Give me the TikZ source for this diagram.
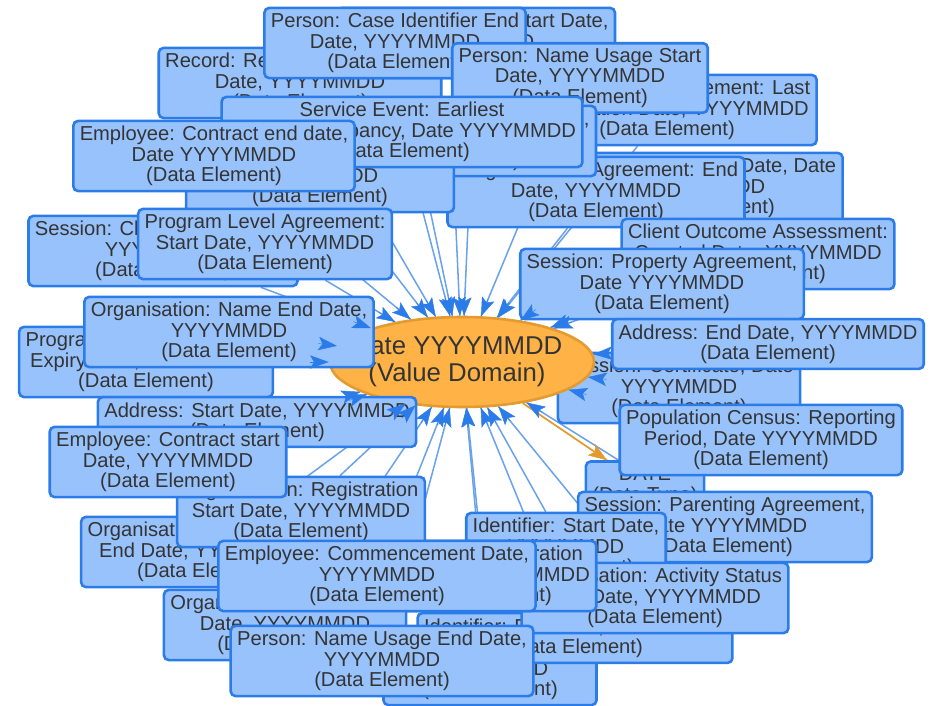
\documentclass[tikz,border=0pt]{standalone}
\usepackage{fontspec}
\setmainfont{Liberation Sans}
\usetikzlibrary{arrows.meta,calc,shapes.geometric}
\definecolor{elfill}{HTML}{97C2FC}
\definecolor{elline}{HTML}{2B7CE9}
\definecolor{eltext}{HTML}{343434}
\definecolor{vdfill}{HTML}{FFB347}
\definecolor{vdline}{HTML}{E39A2E}
\definecolor{lnkcol}{HTML}{6AA2EC}
\pgfdeclarelayer{back}\pgfdeclarelayer{front}\pgfsetlayers{back,main,front}
\tikzset{elem/.style={draw=elline,fill=elfill,line width=2.2pt,rounded corners=4pt,align=center,text=eltext,inner xsep=5.5pt,inner ysep=4.5pt,font=\fontsize{17.2}{17.4}\selectfont},
vdom/.style={ellipse,draw=vdline,fill=vdfill,line width=2.2pt,minimum width=79.2mm,minimum height=27mm,inner sep=0pt},
vdtext/.style={align=center,text=eltext,font=\fontsize{22}{23}\selectfont,xshift=-1.5mm},
link/.style={lnkcol,line width=1.3pt},head/.style={elline,-{Stealth[length=5.6mm,width=4mm,inset=1.2mm]}},
olink/.style={vdline,line width=1.5pt},ohead/.style={vdline,-{Stealth[length=5.6mm,width=4mm,inset=1.2mm]}}}
% edge from a data element to the value domain, tip drawn above the boxes
\newcommand\lnk[1]{\begin{pgfonlayer}{back}\draw[link] (#1) -- (vd);\end{pgfonlayer}%
\path (#1) -- (vd) coordinate[pos=1] (tp);%
\begin{pgfonlayer}{front}\draw[head] ($(tp)!5.6mm!(#1.center)$) -- (tp);\end{pgfonlayer}}

\begin{document}
\begin{tikzpicture}[x=0.3mm,y=-0.3mm]
\useasboundingbox (0,0) rectangle (931,706);
% top
\node[elem] (recret) at (300,83) {Record: Retention Period End\\Date, YYYYMMDD\\(Data Element)};
\node[elem] (progfund) at (476,43) {Program: Funding Start Date,\\YYYYMMDD\\(Data Element)};
\node[elem] (pcaseend) at (395,43) {Person: Case Identifier End\\Date, YYYYMMDD\\(Data Element)};
\node[elem] (plalast) at (667,110) {Program Level Agreement: Last\\Modification Date, YYYYMMDD\\(Data Element)};
\node[elem] (pnamest) at (580,78) {Person: Name Usage Start\\Date, YYYYMMDD\\(Data Element)};
\node[elem] (sesref) at (707,188) {Session: Referral Date, Date\\YYYYMMDD\\(Data Element)};
\node[elem] (plaend) at (596,192) {Program Level Agreement: End\\Date, YYYYMMDD\\(Data Element)};
\node[elem] (sevlast) at (452,141) {Service Event: Latest Session,\\Date YYYYMMDD\\(Data Element)};
\node[elem] (sesnext) at (320,177) {Session: Next Contact Date,\\YYYYMMDD\\(Data Element)};
\node[elem] (sevfirst) at (402,132) {Service Event: Earliest\\Service Occupancy, Date YYYYMMDD\\(Data Element)};
\node[elem] (empend) at (214,156) {Employee: Contract end date,\\Date YYYYMMDD\\(Data Element)};
% left and right of the middle
\node[elem] (sesclose) at (163,251) {Session: Closure Date, Date\\YYYYMMDD\\(Data Element)};
\node[elem] (plastart) at (265,244) {Program Level Agreement:\\Start Date, YYYYMMDD\\(Data Element)};
\node[elem] (coacr) at (758,254) {Client Outcome Assessment:\\Created Date, YYYYMMDD\\(Data Element)};
\node[elem] (sesprop) at (662,284) {Session: Property Agreement,\\Date YYYYMMDD\\(Data Element)};
\node[elem] (sescert) at (679,388) {Session: Certificate, Date\\YYYYMMDD\\(Data Element)};
\node[vdom,label={[vdtext]center:{Date YYYYMMDD\\(Value Domain)}}] (vd) at (462,362) {};
\node[elem] (plaexp) at (146,362) {Program Level Agreement:\\Expiry Date, YYYYMMDD\\(Data Element)};
\node[elem] (orgnameend) at (229,332) {Organisation: Name End Date,\\YYYYMMDD\\(Data Element)};
\node[elem] (addrend) at (768,344) {Address: End Date, YYYYMMDD\\(Data Element)};
\node[elem] (addrst) at (257,422) {Address: Start Date, YYYYMMDD\\(Data Element)};
\node[elem] (dt) at (645,486) {DATE\\(Data Type)};
\node[elem] (popcen) at (761,440) {Population Census: Reporting\\Period, Date YYYYMMDD\\(Data Element)};
% bottom
\node[elem] (sespar) at (725,527) {Session: Parenting Agreement,\\Date YYYYMMDD\\(Data Element)};
\node[elem] (idst) at (566,548) {Identifier: Start Date,\\YYYYMMDD\\(Data Element)};
\node[elem] (idexp) at (490,670) {Identifier: Expiry Date,\\YYYYMMDD\\(Data Element)};
\node[elem] (idend) at (575,638) {Identifier: End Date, YYYYMMDD\\(Data Element)};
\node[elem] (orgact) at (655,598) {Organisation: Activity Status\\End Date, YYYYMMDD\\(Data Element)};
\node[elem] (idreg) at (484,576) {Identifier: Registration\\End Date, YYYYMMDD\\(Data Element)};
\node[elem] (orgregend) at (205,552) {Organisation: Registration\\End Date, YYYYMMDD\\(Data Element)};
\node[elem] (orgnamest) at (285,625) {Organisation: Name Start\\Date, YYYYMMDD\\(Data Element)};
\node[elem] (orgregst) at (301,512) {Organisation: Registration\\Start Date, YYYYMMDD\\(Data Element)};
\node[elem] (empst) at (168,462) {Employee: Contract start\\Date, YYYYMMDD\\(Data Element)};
\node[elem] (empcomm) at (377,576) {Employee: Commencement Date,\\YYYYMMDD\\(Data Element)};
\node[elem] (pnameend) at (382,661) {Person: Name Usage End Date,\\YYYYMMDD\\(Data Element)};
% edges
\lnk{recret}\lnk{progfund}\lnk{pcaseend}\lnk{pnamest}\lnk{plalast}\lnk{sesref}\lnk{plaend}\lnk{sevlast}\lnk{sevfirst}
\lnk{sesnext}\lnk{empend}\lnk{sesclose}\lnk{plastart}\lnk{coacr}\lnk{sesprop}\lnk{sescert}\lnk{plaexp}\lnk{orgnameend}
\lnk{addrend}\lnk{addrst}\lnk{empst}\lnk{popcen}\lnk{sespar}\lnk{idst}\lnk{idexp}\lnk{idend}\lnk{orgact}
\lnk{idreg}\lnk{orgregend}\lnk{orgnamest}\lnk{orgregst}\lnk{empcomm}\lnk{pnameend}
\begin{pgfonlayer}{back}\draw[olink] (vd) -- (dt);\end{pgfonlayer}
\path (vd) -- (dt) coordinate[pos=1] (tp);
\begin{pgfonlayer}{front}\draw[ohead] ($(tp)!5.6mm!(vd.center)$) -- (tp);\end{pgfonlayer}
\end{tikzpicture}
\end{document}
